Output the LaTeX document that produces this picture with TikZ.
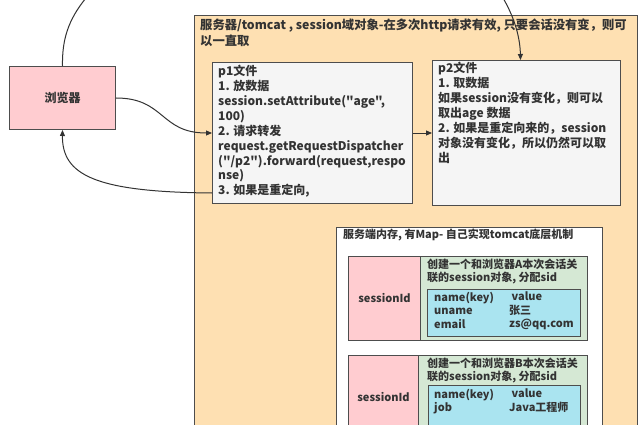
\documentclass[tikz,border=0pt]{standalone}
\usepackage{fontspec}
\setmainfont{Noto Sans CJK SC}[Ligatures=TeXOff]
\usetikzlibrary{calc,arrows.meta}
\definecolor{edgecol}{HTML}{4D4D4D}
\definecolor{linecol}{HTML}{333333}
\definecolor{txtcol}{HTML}{333333}
\definecolor{orangefill}{HTML}{FEE0B2}
\definecolor{pinkfill}{HTML}{FFCCD0}
\definecolor{grayfill}{HTML}{F5F5F5}
\definecolor{greenfill}{HTML}{D5E8D4}
\definecolor{bluefill}{HTML}{AAE4F0}
\begin{document}
\begin{tikzpicture}[x=1pt,y=-1pt,
  box/.style={draw=edgecol, line width=1pt, inner sep=0pt, anchor=north west},
  txtbig/.style={anchor=north west, inner sep=0pt, align=left, text=txtcol,
     font=\fontsize{12}{14.9}\selectfont\bfseries},
  txtsmall/.style={anchor=north west, inner sep=0pt, align=left, text=txtcol,
     font=\fontsize{11}{13.2}\selectfont\bfseries},
  conn/.style={draw=linecol, line width=1pt},
  arr/.style={conn, -{Triangle[length=6pt,width=5pt]}}]
\useasboundingbox (0,0) rectangle (642,425);
\clip (0,0) rectangle (642,425);
% server (orange) box
\node[box, fill=orangefill, minimum width=443pt, minimum height=430pt] (server) at (194,15) {};
\node[txtbig, font=\fontsize{12.3}{16}\selectfont\bfseries] (servertitle) at (200,18.5)
  {服务器/tomcat , session域对象-在多次http请求有效, 只要会话没有变，则可\\以一直取};
% browser
\node[box, fill=pinkfill, minimum width=106pt, minimum height=63pt] (browser) at (9,66) {};
\node[text=txtcol, font=\fontsize{12}{14}\selectfont\bfseries] (browsertxt) at (browser.center) {浏览器};
% p1
\node[box, fill=grayfill, minimum width=200pt, minimum height=141pt] (p1) at (212,62) {};
\node[txtbig] (p1txt) at (218,65)
  {p1文件\\1. 放数据\\session.setAttribute("age",\\100)\\2. 请求转发\\request.getRequestDispatcher\\("/p2").forward(request,respo\\nse)\\3. 如果是重定向,};
% p2
\node[box, fill=grayfill, minimum width=188pt, minimum height=145pt] (p2) at (432,60) {};
\node[txtbig] (p2txt) at (438,62)
  {p2文件\\1. 取数据\\如果session没有变化，则可以\\取出age 数据\\2. 如果是重定向来的，session\\对象没有变化，所以仍然可以取\\出};
% memory box
\node[box, fill=white, minimum width=266pt, minimum height=220pt] (mem) at (336,227) {};
\node[txtsmall] (memtitle) at (343,229) {服务端内存, 有Map- 自己实现tomcat底层机制};
% session A
\node[box, fill=pinkfill, minimum width=72pt, minimum height=84pt] (pinkA) at (348,256) {};
\node[text=txtcol, font=\fontsize{11}{13}\selectfont\bfseries] (sidA) at (pinkA.center) {sessionId};
\node[box, fill=greenfill, minimum width=167pt, minimum height=84pt] (greenA) at (420,256) {};
\node[txtsmall, font=\fontsize{11}{12.8}\selectfont\bfseries] (greenAtxt) at (427,259) {创建一个和浏览器A本次会话关\\联的session对象, 分配sid};
\node[box, fill=bluefill, minimum width=153pt, minimum height=47pt] (blueA) at (427,289) {};
\node[txtsmall, font=\fontsize{11}{13.5}\selectfont\bfseries] (blueAk) at (434,292) {name(key)\\uname\\email};
\node[txtsmall, font=\fontsize{11}{13.5}\selectfont\bfseries] (blueAv) at (509,292) {\ value\\张三\\zs@qq.com};
% session B
\node[box, fill=pinkfill, minimum width=70pt, minimum height=80pt] (pinkB) at (348,355) {};
\node[text=txtcol, font=\fontsize{11}{13}\selectfont\bfseries] (sidB) at ($(pinkB.north)+(0,42)$) {sessionId};
\node[box, fill=greenfill, minimum width=169pt, minimum height=80pt] (greenB) at (418,355) {};
\node[txtsmall, font=\fontsize{11}{12.6}\selectfont\bfseries] (greenBtxt) at (427,358) {创建一个和浏览器B本次会话关\\联的session对象, 分配sid};
\node[box, fill=bluefill, minimum width=152pt, minimum height=60pt] (blueB) at (428,385) {};
\node[txtsmall, font=\fontsize{11}{13.5}\selectfont\bfseries] (blueBk) at (434,389) {name(key)\\job};
\node[txtsmall, font=\fontsize{11}{13.5}\selectfont\bfseries] (blueBv) at (509,389) {\ value\\Java工程师};
% connectors
\coordinate (topL) at (86,-2);
\coordinate (topR) at (503,-2);
\draw[conn] (topL) .. controls (68,20) and (62,40) .. (browser.north);
\draw[arr] (browser.east) .. controls (165,98) and (160,133) .. (p1.west);
\draw[arr] (p1.east) -- (p2.west);
\draw[arr] ($(p1.south west)+(0,-11)$) .. controls (95,192) and (62,175) .. (browser.south);
\draw[arr] (topR) .. controls (513,15) and (520,35) .. ($(p2.north)+(-6,0)$);
\end{tikzpicture}
\end{document}
